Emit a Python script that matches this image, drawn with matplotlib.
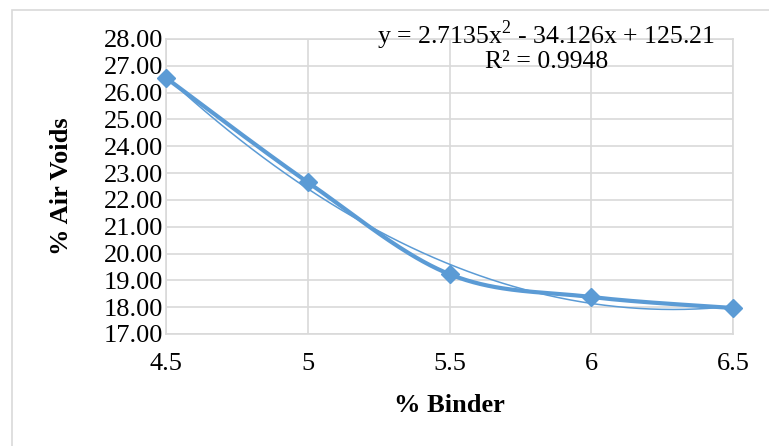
import numpy as np
import matplotlib
matplotlib.use("Agg")
import matplotlib.pyplot as plt
from matplotlib.patches import Rectangle

# Data: air voids versus binder content
binder = [4.5, 5.0, 5.5, 6.0, 6.5]
air_voids = [26.55, 22.66, 19.23, 18.38, 17.97]

# Second-order polynomial trendline coefficients (as reported)
coef_a, coef_b, coef_c = 2.7135, -34.126, 125.21
r_squared = 0.9948

x_ticks = [4.5, 5, 5.5, 6, 6.5]
x_tick_labels = ["4.5", "5", "5.5", "6", "6.5"]
y_ticks = list(range(17, 29))

blue = "#5B9BD5"
grid_col = "#D9D9D9"

plt.rcParams["font.family"] = ["Liberation Serif", "DejaVu Serif"]
plt.rcParams["mathtext.fontset"] = "custom"
plt.rcParams["mathtext.rm"] = "Liberation Serif"


def smooth_curve(xs, ys, n=60):
    """Catmull-Rom style Bezier smoothing through the given points."""
    pts = np.column_stack([xs, ys]).astype(float)
    ext = np.vstack([pts[0], pts, pts[-1]])
    out = []
    t = np.linspace(0, 1, n)[:, None]
    for i in range(1, len(ext) - 2):
        p0, p1, p2, p3 = ext[i - 1], ext[i], ext[i + 1], ext[i + 2]
        c1 = p1 + (p2 - p0) / 6.0
        c2 = p2 - (p3 - p1) / 6.0
        seg = ((1 - t) ** 3) * p1 + 3 * ((1 - t) ** 2) * t * c1 \
            + 3 * (1 - t) * t ** 2 * c2 + t ** 3 * p2
        out.append(seg if i == 1 else seg[1:])
    out = np.vstack(out)
    return out[:, 0], out[:, 1]


fig = plt.figure(figsize=(7.69, 4.46), dpi=100)
W, H = 769, 446
ax = fig.add_axes([166 / W, 1 - 334 / H, (733 - 166) / W, (334 - 39) / H])

# Chart frame (top and left edges visible)
fig.patches.append(Rectangle((12 / W, -0.1), 1.2, 1 - 10 / H + 0.1,
                             transform=fig.transFigure, fill=False,
                             edgecolor="#D9D9D9", linewidth=1.2, zorder=0))

# Trendline
xt = np.linspace(binder[0], binder[-1], 200)
yt = coef_a * xt ** 2 + coef_b * xt + coef_c
ax.plot(xt, yt, color=blue, linewidth=1.1, zorder=3)

# Smoothed data line with diamond markers
sx, sy = smooth_curve(binder, air_voids)
ax.plot(sx, sy, color=blue, linewidth=3.0, zorder=4, solid_capstyle="round")
ax.plot(binder, air_voids, linestyle="none", marker="D", markersize=9.5,
        color=blue, zorder=5, clip_on=False)

ax.set_xlim(4.5, 6.5)
ax.set_ylim(17, 28)
ax.set_xticks(x_ticks)
ax.set_xticklabels(x_tick_labels)
ax.set_yticks(y_ticks)
ax.set_yticklabels([f"{v:.2f}" for v in y_ticks])
ax.tick_params(axis="both", length=0, labelsize=19, colors="black")
ax.tick_params(axis="x", pad=14)
ax.tick_params(axis="y", pad=2)
ax.grid(True, color=grid_col, linewidth=1.2)
ax.set_axisbelow(True)
for s in ax.spines.values():
    s.set_color(grid_col)
    s.set_linewidth(1.2)

fig.text(62 / W, 1 - 186 / H, "% Air Voids", rotation=90, fontsize=19,
         fontweight="bold", ha="center", va="center")
fig.text(449 / W, 1 - 405 / H, "% Binder", fontsize=19,
         fontweight="bold", ha="center", va="center")

fig.text(546 / W, 1 - 35 / H,
         f"y = {coef_a}x$^{{2}}$ - {abs(coef_b)}x + {coef_c}",
         fontsize=18.5, ha="center", va="center")
fig.text(547 / W, 1 - 62 / H, f"R² = {r_squared}", fontsize=18.5,
         ha="center", va="center")

fig.savefig("out.png", dpi=100, facecolor="white")
